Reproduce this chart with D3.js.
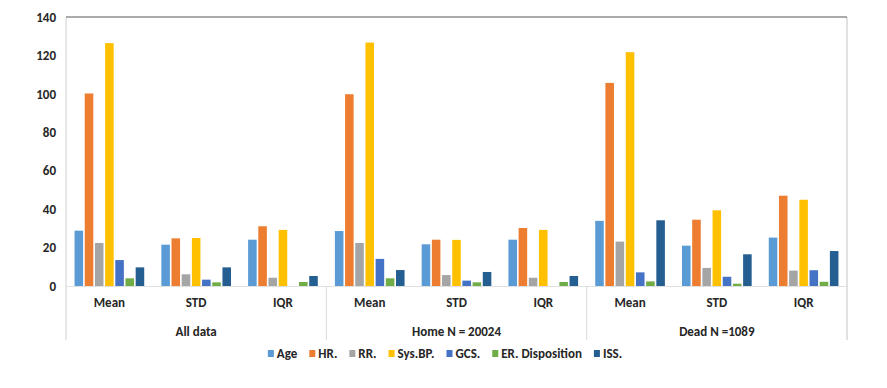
<!DOCTYPE html>
<html><head><meta charset="utf-8">
<script src="https://cdn.jsdelivr.net/npm/d3@7"></script>
<style>
body{margin:0;background:#fff;}
text{font-family:'Liberation Sans Narrow','Carlito','Roboto Condensed','Liberation Sans',sans-serif;font-weight:bold;}
</style></head>
<body><svg id="c" width="887" height="388"></svg>
<script>
const groups = ["All data", "Home N = 20024", "Dead N =1089"];
const stats = ["Mean", "STD", "IQR"];
const series = ["Age", "HR.", "RR.", "Sys.BP.", "GCS.", "ER. Disposition", "ISS."];
const colors = ["#5B9BD5", "#ED7D31", "#A5A5A5", "#FFC000", "#4472C4", "#70AD47", "#255E91"];
const yTicks = [0, 20, 40, 60, 80, 100, 120, 140];
// values per series, order: AllMean, AllSTD, AllIQR, HomeMean, HomeSTD, HomeIQR, DeadMean, DeadSTD, DeadIQR
const age    = [28.8, 21.5, 24.1, 28.6, 21.7, 24.1, 33.9, 21.0, 25.2];
const hr     = [100.2, 24.8, 31.1, 99.8, 24.1, 30.2, 105.7, 34.5, 47.0];
const rr     = [22.4, 6.1, 4.3, 22.4, 5.7, 4.3, 23.1, 9.4, 8.0];
const sysbp  = [126.4, 25.0, 29.2, 126.7, 24.0, 29.2, 121.7, 39.4, 44.9];
const gcs    = [13.5, 3.3, 0, 14.1, 2.8, 0, 7.1, 4.8, 8.2];
const er     = [4.0, 1.9, 2.1, 4.0, 1.9, 2.1, 2.4, 1.2, 2.2];
const iss    = [9.7, 9.7, 5.2, 8.3, 7.3, 5.2, 34.2, 16.5, 18.2];
const values = [age, hr, rr, sysbp, gcs, er, iss];

const svg = d3.select("#c");
const L = 66, R = 847, T = 17, B = 286;
const cats = [];
groups.forEach(g => stats.forEach(s => cats.push(g + "|" + s)));

const x0 = d3.scaleBand().domain(cats).range([L, R]).padding(0);
const x1 = d3.scaleBand().domain(series).range([0, x0.bandwidth()]).paddingInner(0.16).paddingOuter(0.84);
const y = d3.scaleLinear().domain([0, 140]).range([B, T]);

// bars
cats.forEach((c, ci) => {
  const g = svg.append("g").attr("transform", `translate(${x0(c)},0)`);
  series.forEach((s, si) => {
    const v = values[si][ci];
    if (v <= 0) return;
    g.append("rect")
      .attr("x", x1(s)).attr("width", x1.bandwidth())
      .attr("y", y(v)).attr("height", y(0) - y(v))
      .attr("fill", colors[si]);
  });
});

// frame
svg.append("line").attr("x1", L).attr("x2", L).attr("y1", T).attr("y2", 340).attr("stroke", "#d0d0d0");
svg.append("line").attr("x1", R).attr("x2", R).attr("y1", T).attr("y2", 340).attr("stroke", "#c4c4c4");
svg.append("line").attr("x1", L).attr("x2", R).attr("y1", T).attr("y2", T).attr("stroke", "#595959").attr("stroke-width", 1.2);
svg.append("line").attr("x1", L).attr("x2", R).attr("y1", B + 0.5).attr("y2", B + 0.5).attr("stroke", "#e0e0e0");

// y axis
const ya = svg.append("g").attr("transform", `translate(${L},0)`)
  .call(d3.axisLeft(y).tickValues(yTicks).tickSize(0).tickPadding(10));
ya.select(".domain").remove();
ya.selectAll("text").style("font-size", "13px").attr("fill", "#262626");

// category axis: stats
const xa = svg.append("g").attr("transform", `translate(0,${B})`)
  .call(d3.axisBottom(x0).tickSize(0).tickPadding(12).tickFormat(d => d.split("|")[1]));
xa.select(".domain").remove();
xa.selectAll("text").style("font-size", "13px").attr("fill", "#262626");

// group labels and separators
const gScale = d3.scaleBand().domain(groups).range([L, R]);
groups.forEach(g => {
  svg.append("text").attr("x", gScale(g) + gScale.bandwidth() / 2).attr("y", 336)
    .attr("text-anchor", "middle").style("font-size", "13px").attr("fill", "#262626").text(g);
});
groups.slice(1).forEach(g => {
  svg.append("line").attr("x1", gScale(g)).attr("x2", gScale(g)).attr("y1", B).attr("y2", 340).attr("stroke", "#d9d9d9");
});

// legend
const leg = svg.append("g");
let lx = 0;
series.forEach((s, i) => {
  const it = leg.append("g").attr("transform", `translate(${lx},0)`);
  it.append("rect").attr("x", 0).attr("y", -4).attr("width", 6).attr("height", 7).attr("fill", colors[i]);
  const t = it.append("text").attr("x", 9).attr("y", 4).style("font-size", "13px").attr("fill", "#262626").text(s);
  lx += 9 + t.node().getComputedTextLength() + 12;
});
const lw = lx - 12;
leg.attr("transform", `translate(${445 - lw / 2},354)`);
</script></body></html>
